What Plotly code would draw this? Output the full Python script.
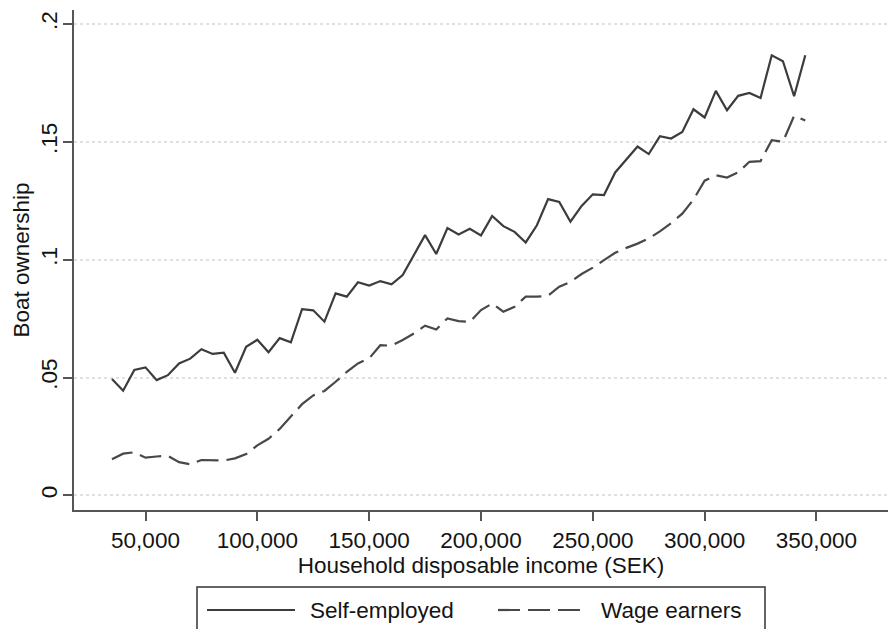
import plotly.graph_objects as go

income = list(range(35000, 345001, 5000))

self_employed = [
    0.0494, 0.0444, 0.0532, 0.0543, 0.0489, 0.0510, 0.0560, 0.0580, 0.0620, 0.0600,
    0.0605, 0.0520, 0.0630, 0.0660, 0.0607, 0.0667, 0.0649, 0.0790, 0.0785, 0.0737,
    0.0857, 0.0843, 0.0904, 0.0890, 0.0909, 0.0895, 0.0935, 0.1020, 0.1104, 0.1024,
    0.1134, 0.1107, 0.1131, 0.1103, 0.1185, 0.1142, 0.1118, 0.1073, 0.1146, 0.1257,
    0.1245, 0.1161, 0.1228, 0.1277, 0.1274, 0.1370, 0.1425, 0.1480, 0.1448, 0.1524,
    0.1514, 0.1542, 0.1638, 0.1603, 0.1716, 0.1634, 0.1695, 0.1707, 0.1686, 0.1867,
    0.1842, 0.1693, 0.1867,
]

wage_earners = [
    0.0153, 0.0177, 0.0183, 0.0160, 0.0165, 0.0168, 0.0141, 0.0132, 0.0150, 0.0150,
    0.0148, 0.0157, 0.0175, 0.0212, 0.0240, 0.0282, 0.0334, 0.0387, 0.0424, 0.0443,
    0.0482, 0.0524, 0.0560, 0.0581, 0.0637, 0.0635, 0.0659, 0.0687, 0.0720, 0.0704,
    0.0751, 0.0739, 0.0736, 0.0786, 0.0814, 0.0779, 0.0800, 0.0843, 0.0843, 0.0847,
    0.0885, 0.0906, 0.0939, 0.0966, 0.0998, 0.1029, 0.1050, 0.1068, 0.1090, 0.1120,
    0.1155, 0.1195, 0.1255, 0.1335, 0.1358, 0.1348, 0.1370, 0.1415, 0.1418, 0.1507,
    0.1500, 0.1610, 0.1590,
]

x_tick_vals = [50000, 100000, 150000, 200000, 250000, 300000, 350000]
x_tick_text = ["50,000", "100,000", "150,000", "200,000", "250,000", "300,000", "350,000"]
y_tick_vals = [0, 0.05, 0.1, 0.15, 0.2]
y_tick_text = ["0", ".05", ".1", ".15", ".2"]
series_names = ["Self-employed", "Wage earners"]

FONT = "Liberation Sans, Arial, sans-serif"
FS = 22.5
SOLID_COLOR = "#3c3c3c"
DASH_COLOR = "#484848"
DASH = "22px,8px"
TEXT_COLOR = "#141414"
W, H = 888, 629
ML, MR, MT, MB = 74, 0, 10, 119
PW, PH = W - ML - MR, H - MT - MB


def px(xp):
    return (xp - ML) / PW


def py(yp):
    return (H - MB - yp) / PH


fig = go.Figure()
fig.add_trace(go.Scatter(x=income, y=self_employed, mode="lines", name=series_names[0],
                         line=dict(color=SOLID_COLOR, width=2.2)))
fig.add_trace(go.Scatter(x=income, y=wage_earners, mode="lines", name=series_names[1],
                         line=dict(color=DASH_COLOR, width=2.2, dash=DASH)))

fig.update_layout(
    width=W, height=H,
    margin=dict(l=ML, r=MR, t=MT, b=MB, pad=0),
    paper_bgcolor="white", plot_bgcolor="white",
    showlegend=False,
    font=dict(family=FONT, size=FS, color=TEXT_COLOR),
    xaxis=dict(
        range=[18032, 381980], tickvals=x_tick_vals, ticktext=x_tick_text,
        showgrid=False, zeroline=False, showline=True, linecolor="#555555", linewidth=2,
        ticks="outside", ticklen=9, tickwidth=2, tickcolor="#555555",
        tickfont=dict(size=FS, color=TEXT_COLOR),
        title=dict(text="Household disposable income (SEK)", standoff=1,
                   font=dict(size=FS, color=TEXT_COLOR)),
        automargin=False,
    ),
    yaxis=dict(
        range=[-0.0062, 0.2059], tickvals=y_tick_vals, ticktext=y_tick_text,
        showgrid=True, gridcolor="#e0e0e0", gridwidth=1.5, griddash="dot",
        zeroline=False, showline=True, linecolor="#555555", linewidth=2,
        ticks="outside", ticklen=9, tickwidth=2, tickcolor="#555555",
        tickangle=-90, ticklabelstandoff=-3,
        tickfont=dict(size=FS, color=TEXT_COLOR),
        title=dict(text="Boat ownership", standoff=1,
                   font=dict(size=FS, color=TEXT_COLOR)),
        automargin=False,
    ),
)

# Legend box drawn as in the original (Stata-style, below the plot)
legend_y = py(610)
fig.add_shape(type="rect", xref="paper", yref="paper",
              x0=px(197), x1=px(765), y0=py(635), y1=py(587),
              line=dict(color="#333333", width=1.5), fillcolor="white")
fig.add_shape(type="line", xref="paper", yref="paper",
              x0=px(207), x1=px(295), y0=legend_y, y1=legend_y,
              line=dict(color=SOLID_COLOR, width=2.2))
fig.add_shape(type="line", xref="paper", yref="paper",
              x0=px(498), x1=px(584), y0=legend_y, y1=legend_y,
              line=dict(color=DASH_COLOR, width=2.2, dash=DASH))
fig.add_annotation(xref="paper", yref="paper", x=px(308), y=legend_y,
                   text=series_names[0], showarrow=False, xanchor="left", yanchor="middle",
                   font=dict(size=FS, color=TEXT_COLOR))
fig.add_annotation(xref="paper", yref="paper", x=px(599), y=legend_y,
                   text=series_names[1], showarrow=False, xanchor="left", yanchor="middle",
                   font=dict(size=FS, color=TEXT_COLOR))

fig.write_html("out.html")
